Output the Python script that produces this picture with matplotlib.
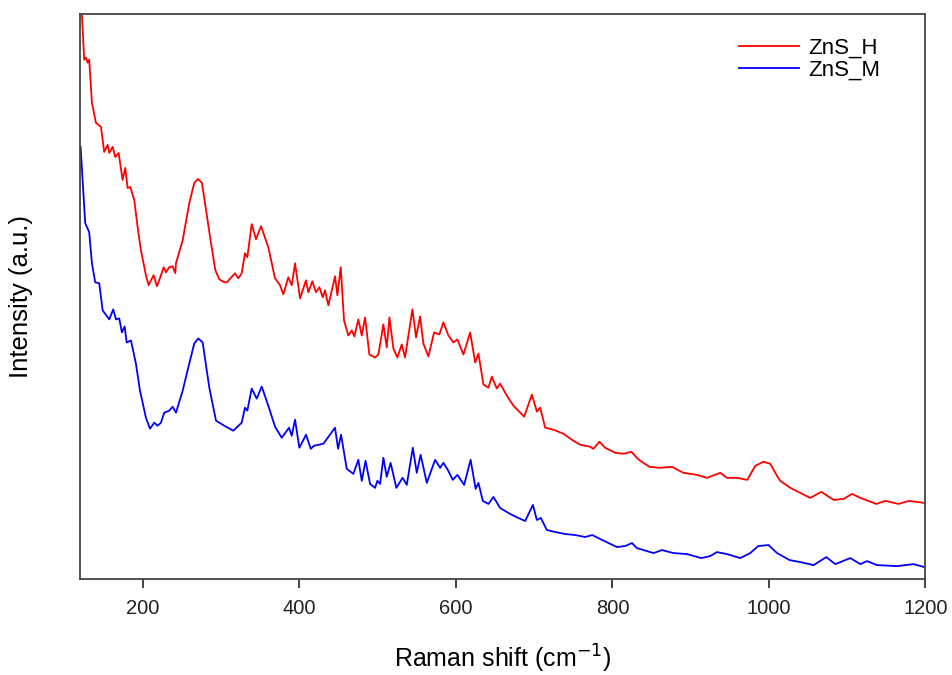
import numpy as np
import matplotlib
matplotlib.use('Agg')
import matplotlib.pyplot as plt

plt.rcParams['font.family'] = ['Liberation Sans', 'DejaVu Sans']

#ZnS_H spectrum
shift_h = [122.0, 124.9, 127.1, 129.3, 131.3, 134.8, 139.9, 146.3, 150.5, 154.9, 156.9, 161.3, 164.6, 168.9,
           174.0, 177.4, 180.4, 183.8, 188.9, 193.2, 197.4, 203.8, 207.3, 210.2, 213.7, 217.9, 222.1, 226.5,
           229.4, 233.6, 238.0, 241.3, 242.2, 250.8, 259.2, 265.6, 270.3, 275.4, 280.6, 287.0, 292.5, 297.6,
           304.0, 307.4, 317.6, 321.9, 326.2, 330.4, 333.4, 339.0, 344.5, 350.9, 360.2, 368.8, 375.2, 379.4,
           385.8, 390.2, 394.4, 400.8, 408.4, 411.4, 416.5, 421.2, 425.5, 429.8, 432.7, 437.0, 445.5, 448.5,
           452.8, 457.0, 462.5, 466.9, 470.2, 475.3, 479.7, 483.9, 489.4, 496.7, 500.9, 507.3, 511.6, 515.0,
           520.1, 525.2, 530.8, 535.0, 544.4, 549.1, 554.2, 558.4, 564.8, 572.1, 578.9, 584.0, 590.4, 596.8,
           601.9, 609.6, 618.2, 624.6, 628.8, 635.2, 641.6, 645.9, 652.3, 656.5, 665.1, 673.5, 687.2, 697.1,
           703.5, 707.7, 714.1, 724.7, 737.5, 748.2, 758.8, 771.6, 775.8, 783.5, 790.8, 803.6, 814.2, 824.4,
           831.3, 835.6, 847.5, 861.1, 876.1, 890.9, 908.1, 920.9, 937.9, 946.4, 959.2, 972.4, 982.6, 993.2,
           1001.8, 1010.4, 1014.6, 1027.4, 1040.2, 1052.9, 1067.0, 1082.8, 1095.5, 1106.3, 1116.9, 1137.4,
           1148.9, 1165.9, 1178.7, 1189.4, 1198.7]
int_h = [563, 518, 520, 515, 518, 475, 455, 451, 426, 433, 425, 431, 421, 425,
         398, 410, 390, 391, 378, 351, 328, 303, 293, 298, 303, 292, 301, 311,
         306, 311, 312, 305, 315, 338, 375, 395, 399, 395, 368, 335, 308, 299,
         296, 296, 305, 300, 305, 325, 321, 354, 339, 352, 331, 300, 293, 284,
         301, 293, 315, 280, 298, 286, 297, 286, 291, 281, 288, 273, 302, 283,
         311, 258, 243, 248, 242, 259, 243, 261, 224, 221, 224, 254, 231, 261,
         230, 221, 234, 221, 269, 241, 262, 235, 222, 246, 244, 256, 243, 236,
         239, 224, 246, 216, 225, 194, 191, 202, 190, 195, 183, 173, 162, 184,
         167, 171, 151, 149, 145, 139, 134, 132, 130, 137, 131, 126, 125, 127,
         121, 118, 112, 111, 112, 106, 104, 101, 106, 101, 101, 99, 113, 117,
         115, 103, 98, 91, 86, 81, 87, 79, 80, 85, 81, 75,
         78, 75, 78, 77, 76]

#ZnS_M spectrum
shift_m = [120.3, 123.7, 126.2, 131.3, 134.8, 139.0, 144.1, 148.5, 156.9, 162.0, 165.5, 169.7, 173.1, 176.6,
           179.2, 184.7, 191.0, 196.2, 203.8, 209.0, 214.5, 218.8, 223.0, 227.2, 233.6, 238.0, 242.2, 250.8,
           259.2, 265.6, 270.7, 276.3, 284.8, 293.4, 304.0, 315.5, 326.2, 330.4, 333.4, 339.0, 345.4, 351.8,
           360.2, 368.8, 377.4, 386.7, 390.2, 394.4, 399.9, 408.4, 414.5, 418.7, 430.6, 445.5, 449.4, 453.2,
           460.5, 468.9, 475.3, 479.7, 484.5, 490.3, 496.7, 499.6, 503.1, 507.3, 511.6, 516.5, 523.9, 531.8,
           537.2, 544.9, 550.0, 554.9, 562.8, 573.4, 579.8, 584.0, 589.6, 596.0, 601.9, 610.5, 618.8, 625.2,
           628.8, 634.4, 641.6, 648.0, 656.5, 669.3, 679.9, 688.5, 698.4, 703.5, 708.6, 716.2, 726.9, 739.7,
           752.4, 765.2, 774.2, 784.4, 805.8, 816.4, 825.0, 831.3, 835.6, 852.6, 863.3, 878.1, 895.3, 913.6,
           925.1, 933.6, 946.4, 963.4, 976.2, 986.5, 999.6, 1010.4, 1026.5, 1040.2, 1057.2, 1073.4, 1084.9,
           1104.1, 1116.9, 1125.5, 1138.3, 1163.8, 1185.1, 1198.7]
int_m = [431, 388, 355, 346, 315, 296, 295, 268, 259, 269, 259, 260, 246, 252,
         236, 238, 215, 188, 161, 150, 156, 153, 156, 166, 168, 172, 166, 188,
         215, 235, 240, 236, 191, 158, 153, 148, 156, 171, 168, 190, 180, 192,
         173, 152, 141, 151, 143, 159, 131, 144, 130, 133, 135, 151, 130, 144,
         110, 105, 119, 98, 118, 95, 91, 98, 95, 121, 102, 116, 91, 101,
         94, 131, 106, 124, 96, 119, 111, 116, 109, 99, 104, 94, 119, 90,
         96, 78, 75, 82, 71, 65, 61, 58, 74, 59, 61, 49, 47, 45,
         44, 42, 44, 40, 32, 33, 36, 31, 30, 26, 29, 26, 25, 21,
         23, 27, 25, 21, 26, 33, 34, 26, 19, 17, 14, 22, 15,
         21, 15, 18, 14, 13, 15, 12]

fig = plt.figure(figsize=(9.52, 6.75), dpi=100)
ax = fig.add_axes([0.084, 0.142, 0.888, 0.838])
ax.plot(shift_h, int_h, color='red', lw=1.3, label='ZnS_H')
ax.plot(shift_m, int_m, color='blue', lw=1.3, label='ZnS_M')

ax.set_xlim(119.5, 1200)
ax.set_ylim(0, 564)
ax.set_xticks([200, 400, 600, 800, 1000, 1200])
ax.set_yticks([])
ax.tick_params(axis='x', direction='out', length=6.5, width=1.2, labelsize=14.5, pad=8, colors='#222222')
for s in ax.spines.values():
    s.set_linewidth(1.3)
    s.set_color('#444444')

ax.set_xlabel('Raman shift (cm$^{-1}$)', fontsize=18)
ax.set_ylabel('Intensity (a.u.)', fontsize=18.5)
ax.xaxis.set_label_coords(0.5, -0.113)
ax.yaxis.set_label_coords(-0.056, 0.5)
ax.legend(loc='upper right', frameon=False, fontsize=16, handlelength=2.7, handletextpad=0.4,
          labelspacing=0.05, bbox_to_anchor=(0.97, 0.993))

plt.savefig('out.png', dpi=100)
